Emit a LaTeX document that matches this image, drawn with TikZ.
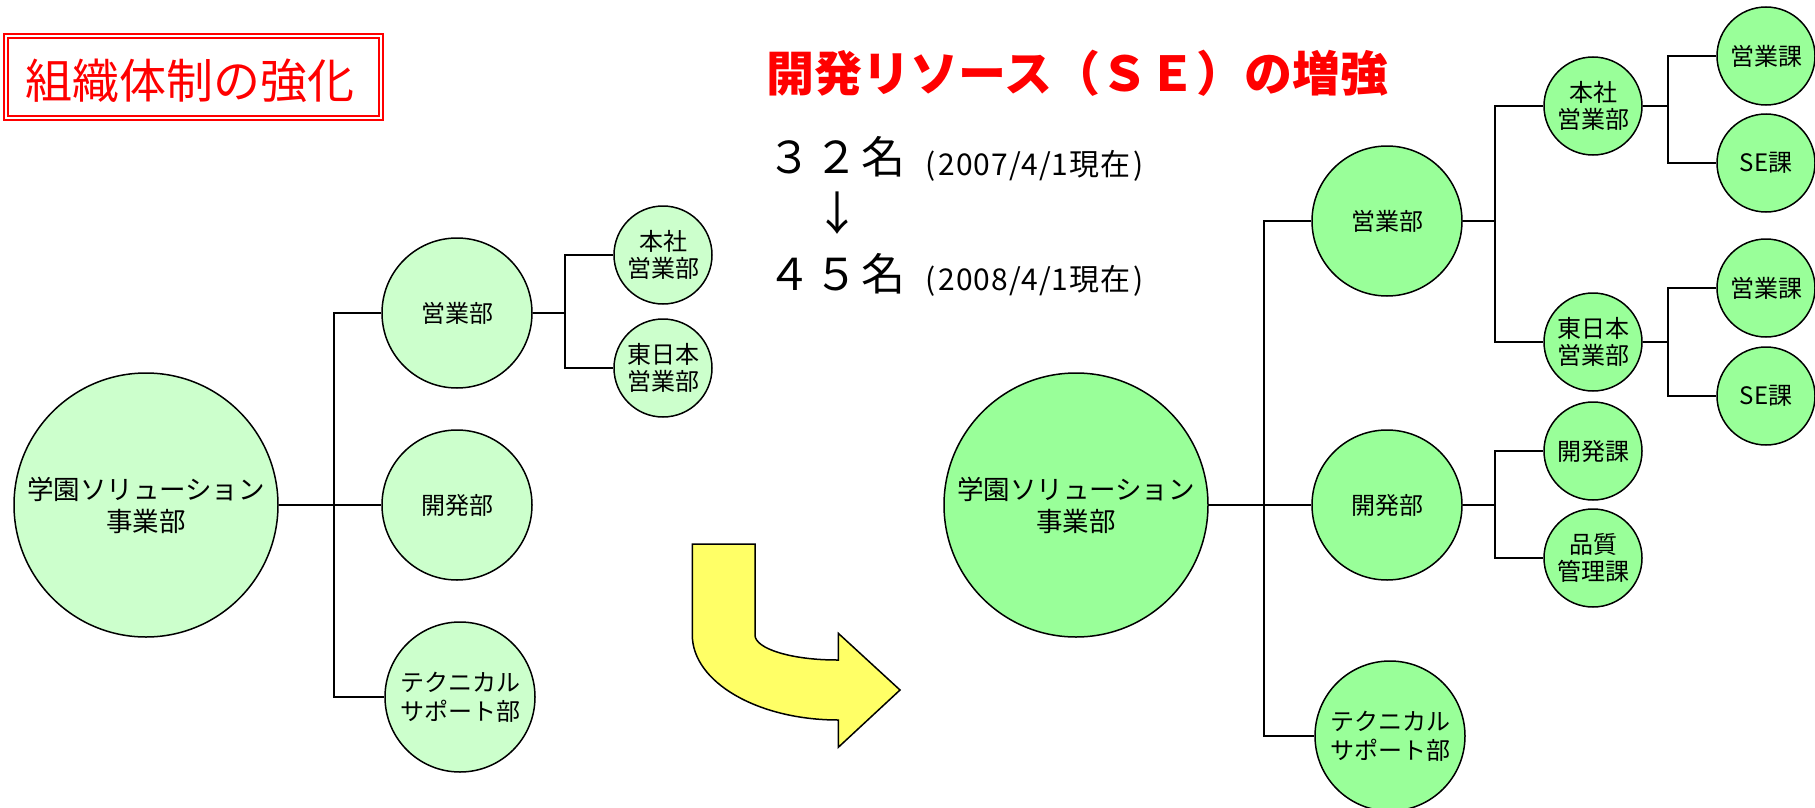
\documentclass[tikz,border=0pt]{standalone}
\usepackage{fontspec}
\setmainfont{Noto Sans CJK JP}
\newfontfamily\datefont[LetterSpace=3]{Noto Sans CJK JP}
\definecolor{lgreen}{HTML}{CCFFCC}
\definecolor{rgreen}{HTML}{99FF99}
\definecolor{ayellow}{HTML}{FFFF66}
\definecolor{tred}{HTML}{FF0000}
\begin{document}
\begin{tikzpicture}[x=1pt,y=-1pt,
  conn/.style={line width=1.5pt, draw=black},
  orgc/.style={circle, draw=black, line width=1.5pt, inner sep=0pt, align=center, text=black},
  lorg/.style={orgc, fill=lgreen},
  rorg/.style={orgc, fill=rgreen},
  bigc/.style={minimum size=264pt, font=\fontsize{26.5}{32}\selectfont},
  midc/.style={minimum size=150pt, font=\fontsize{24}{29}\selectfont},
  smallc/.style={minimum size=98pt, font=\fontsize{24}{27}\selectfont},
  redtitle/.style={text=tred, inner sep=0pt},
  plaintext/.style={text=black, inner sep=0pt},
  datetext/.style={plaintext, anchor=base west, font=\datefont\fontsize{30}{30}\selectfont},
  arrowsty/.style={draw=black, line width=1.5pt, fill=ayellow, line join=miter}
]
\useasboundingbox (0,0) rectangle (1815,808);

% ---------- titles ----------
\node[draw=tred, line width=2pt, double=white, double distance=2pt,
      minimum width=374.4pt, minimum height=81.5pt, inner sep=0pt]
      (t1box) at (193.5,77) {};
\node[redtitle, anchor=base, font=\fontsize{47}{47}\selectfont] (t1) at (190,98.5) {組織体制の強化};

\node[redtitle, anchor=base west, font=\fontsize{48}{48}\selectfont\bfseries]
      (t2) at (766.5,91.5) {開発リソース（ＳＥ）の増強};

% ---------- numbers ----------
\node[plaintext, anchor=base west, font=\fontsize{44}{44}\selectfont]
      (n32) at (767,173.5) {３\kern3.3pt２\kern3.3pt名};
\node[datetext] (d07) at (925.5,175) {(\kern3pt2007/4/1現在\kern3pt)};
\node[plaintext, font=\fontsize{46}{46}\selectfont] (darr) at (837.5,213) {↓};
\node[plaintext, anchor=base west, font=\fontsize{44}{44}\selectfont]
      (n45) at (767,290) {４\kern3.3pt５\kern3.3pt名};
\node[datetext] (d08) at (925.5,290) {(\kern3pt2008/4/1現在\kern3pt)};

% ---------- yellow arrow ----------
\draw[arrowsty] (692.3,544) -- (755,544) -- (755,635)
  .. controls (755,648.8) and (791.7,660) .. (837,660) -- (838.3,660)
  -- (838.3,633.3) -- (900,690) -- (838.3,747.3) -- (838.3,720)
  .. controls (757.4,720) and (692.3,681.9) .. (692.3,635) -- cycle;

% ---------- left tree ----------
\node[lorg, bigc] (L0) at (146,505) {学園ソリューション\\事業部};
\node[lorg, midc] (L1a) at (457,313) {営業部};
\node[lorg, midc] (L1b) at (457,505) {開発部};
\node[lorg, midc] (L1c) at (460,697) {テクニカル\\サポート部};
\node[lorg, smallc] (L2a) at (663,255) {本社\\営業部};
\node[lorg, smallc] (L2b) at (663,368) {東日本\\営業部};

\coordinate (lb1) at (334,505);
\coordinate (lb2) at (565,313);

\draw[conn] (L0.east) -- (L1b.west);
\draw[conn] (L1a.west) -- (L1a.west -| lb1) -- (L1c.west -| lb1) -- (L1c.west);
\draw[conn] (L1a.east) -- (L1a.east -| lb2);
\draw[conn] (L2a.west) -- (L2a.west -| lb2) -- (L2b.west -| lb2) -- (L2b.west);

% ---------- right tree ----------
\node[rorg, bigc] (R0) at (1076,505) {学園ソリューション\\事業部};
\node[rorg, midc] (R1a) at (1387,221) {営業部};
\node[rorg, midc] (R1b) at (1387,505) {開発部};
\node[rorg, midc] (R1c) at (1390,736) {テクニカル\\サポート部};
\node[rorg, smallc] (R2a) at (1593,106) {本社\\営業部};
\node[rorg, smallc] (R2b) at (1593,342) {東日本\\営業部};
\node[rorg, smallc] (R2c) at (1593,451) {開発課};
\node[rorg, smallc] (R2d) at (1593,558) {品質\\管理課};
\node[rorg, smallc] (R3a) at (1766,56) {営業課};
\node[rorg, smallc] (R3b) at (1766,163) {SE課};
\node[rorg, smallc] (R3c) at (1766,288) {営業課};
\node[rorg, smallc] (R3d) at (1766,396) {SE課};

\coordinate (rb1) at (1264,505);
\coordinate (rb2) at (1495,505);
\coordinate (rb3) at (1668,505);

\draw[conn] (R0.east) -- (R1b.west);
\draw[conn] (R1a.west) -- (R1a.west -| rb1) -- (R1c.west -| rb1) -- (R1c.west);
\draw[conn] (R1a.east) -- (R1a.east -| rb2);
\draw[conn] (R2a.west) -- (R2a.west -| rb2) -- (R2b.west -| rb2) -- (R2b.west);
\draw[conn] (R1b.east) -- (R1b.east -| rb2);
\draw[conn] (R2c.west) -- (R2c.west -| rb2) -- (R2d.west -| rb2) -- (R2d.west);
\draw[conn] (R2a.east) -- (R2a.east -| rb3);
\draw[conn] (R3a.west) -- (R3a.west -| rb3) -- (R3b.west -| rb3) -- (R3b.west);
\draw[conn] (R2b.east) -- (R2b.east -| rb3);
\draw[conn] (R3c.west) -- (R3c.west -| rb3) -- (R3d.west -| rb3) -- (R3d.west);
\end{tikzpicture}
\end{document}
